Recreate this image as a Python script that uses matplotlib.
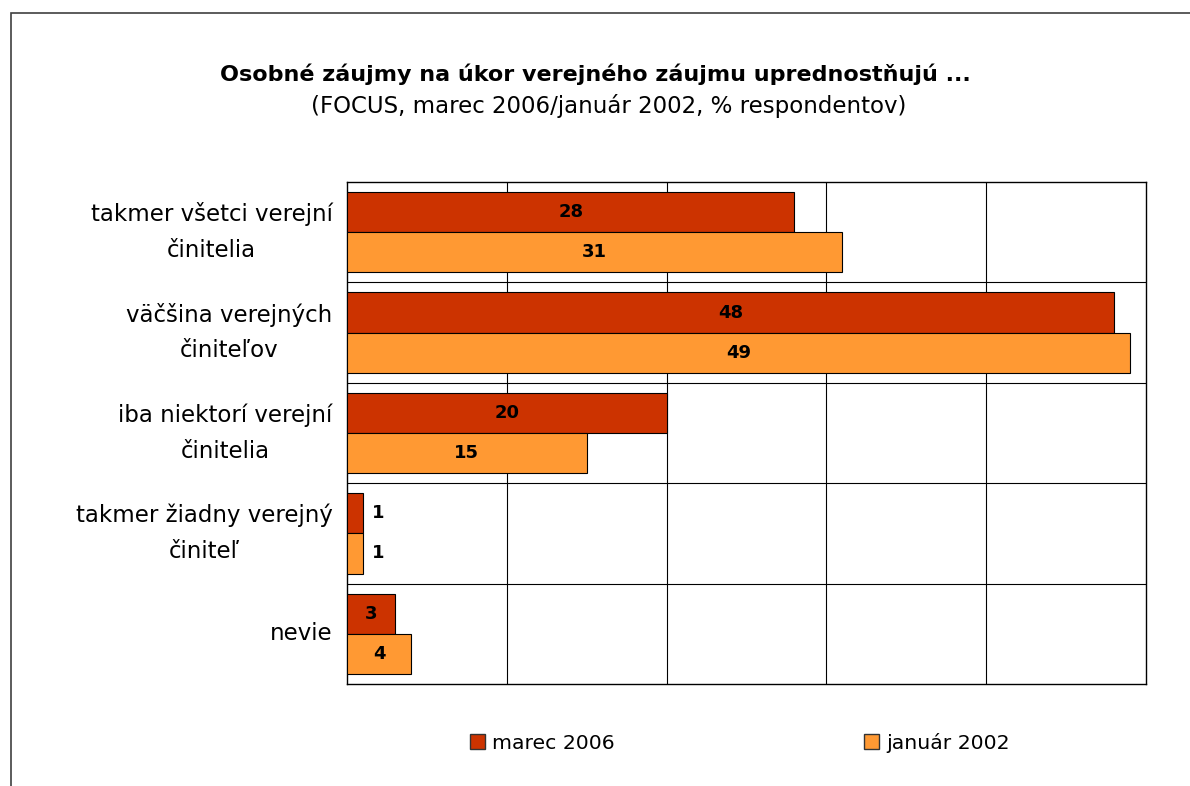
import matplotlib
matplotlib.use("Agg")
import matplotlib.pyplot as plt
from matplotlib.patches import Rectangle
import numpy as np

categories = ["takmer všetci verejní\nčinitelia", "väčšina verejných\nčiniteľov",
              "iba niektorí verejní\nčinitelia", "takmer žiadny verejný\nčiniteľ", "nevie"]
marec_2006 = [28, 48, 20, 1, 3]
januar_2002 = [31, 49, 15, 1, 4]
series_names = ["marec 2006", "január 2002"]
title = "Osobné záujmy na úkor verejného záujmu uprednost\u0148ujú ..."
subtitle = "(FOCUS, marec 2006/január 2002, % respondentov)"

c1 = "#CC3300"
c2 = "#FF9933"

plt.rcParams['font.family'] = ['DejaVu Sans']
W, H = 1190, 786
fig = plt.figure(figsize=(W / 100, H / 100), dpi=100)

# outer frame
fig.patches.append(Rectangle((11 / W, -0.1), 1.2, (H - 13) / H + 0.1, transform=fig.transFigure,
                             fill=False, edgecolor="#404040", linewidth=1.2))

ax = fig.add_axes([347 / W, 1 - 684 / H, (1146 - 347) / W, (684 - 182) / H])
n = len(categories)
y = np.arange(n)
bh = 0.4
b1 = ax.barh(y - bh / 2, marec_2006, height=bh, color=c1, edgecolor="black", linewidth=0.8, zorder=3)
b2 = ax.barh(y + bh / 2, januar_2002, height=bh, color=c2, edgecolor="black", linewidth=0.8, zorder=3)
ax.set_xlim(0, 50)
ax.set_ylim(n - 0.5, -0.5)
ax.set_xticks([10, 20, 30, 40])
ax.set_yticks([])
ax.tick_params(axis='x', length=0, labelbottom=False)
for xv in [10, 20, 30, 40]:
    ax.axvline(xv, color="black", linewidth=0.8, zorder=1)
for yv in np.arange(0.5, n - 0.5, 1):
    ax.axhline(yv, color="black", linewidth=0.8, zorder=1)
for s in ax.spines.values():
    s.set_linewidth(1.0)

for bars, vals in [(b1, marec_2006), (b2, januar_2002)]:
    for b, v in zip(bars, vals):
        cy = b.get_y() + b.get_height() / 2
        if v >= 3:
            ax.text(v / 2, cy, str(v), ha="center", va="center", fontsize=13,
                    fontweight="bold", zorder=4)
        else:
            ax.text(v + 0.95, cy, str(v), ha="center", va="center", fontsize=13,
                    fontweight="bold", zorder=4)

for i, cat in enumerate(categories):
    ax.text(-0.9, i, cat, ha="right", va="center", multialignment="center",
            fontsize=16.5, linespacing=1.7, transform=ax.transData)

fig.text(595 / W, 1 - 74 / H, title, ha="center", va="center", fontsize=16, fontweight="bold")
fig.text(609 / W, 1 - 106 / H, subtitle, ha="center", va="center", fontsize=16.5)

# legend
leg = fig.legend([Rectangle((0, 0), 1, 1, facecolor=c1, edgecolor="#333333"),
                  Rectangle((0, 0), 1, 1, facecolor=c2, edgecolor="#333333")],
                 series_names, loc="center", bbox_to_anchor=(740 / W, 1 - 743 / H),
                 ncol=2, frameon=False, fontsize=14.7, handlelength=0.75, handleheight=0.75,
                 handletextpad=0.35, columnspacing=12.2)

fig.savefig("out.png", dpi=100)
